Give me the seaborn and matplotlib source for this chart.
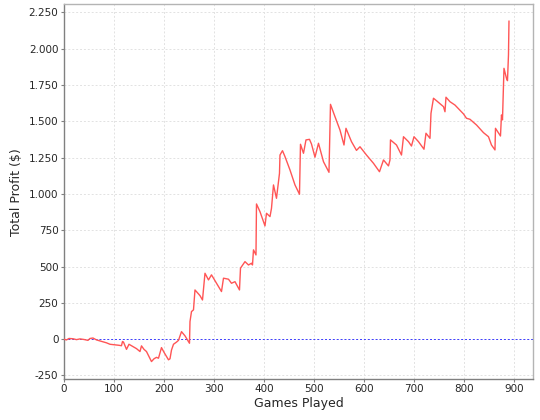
import numpy as np
import pandas as pd
import matplotlib
matplotlib.use("Agg")
import matplotlib.pyplot as plt
import seaborn as sns
from matplotlib.ticker import FuncFormatter, MultipleLocator

# turning points of the cumulative profit curve
games = [0, 5, 10, 18, 25, 32, 40, 48, 52, 58, 65, 75, 85, 92, 100, 110, 115, 117,
         119, 125, 130, 135, 145, 152, 155, 160, 165, 175, 180, 185, 189, 195, 200,
         209, 212, 215, 219, 225, 229, 235, 242, 249, 251, 252, 255, 259, 262, 272,
         277, 282, 289, 295, 305, 315, 319, 329, 335, 342, 351, 353, 362, 369, 375,
         377, 379, 384, 385, 392, 399, 402, 405, 412, 415, 419, 425, 431, 432, 437,
         442, 452, 462, 471, 473, 479, 484, 491, 495, 502, 509, 519, 530, 533, 542,
         552, 560, 564, 569, 575, 585, 592, 605, 619, 631, 639, 649, 652, 653, 665,
         675, 679, 689, 695, 700, 709, 720, 724, 732, 734, 739, 745, 759, 762, 764,
         772, 782, 799, 805, 812, 825, 839, 849, 855, 862, 863, 873, 875, 877, 880,
         885, 887, 889, 890]
profit = [0, -5, 5, 3, -3, 2, -2, -8, 5, 8, -5, -15, -25, -35, -38, -42, -45, -16,
          -20, -70, -35, -45, -65, -85, -46, -70, -85, -154, -135, -125, -131, -58, -90,
          -142, -135, -75, -35, -20, -8, 52, 23, -16, -28, 121, 190, 202, 339, 300,
          270, 454, 408, 443, 385, 328, 420, 413, 385, 396, 339, 489, 534, 511, 523,
          511, 615, 580, 931, 878, 809, 780, 867, 844, 901, 1062, 970, 1142, 1268, 1298,
          1257, 1165, 1062, 998, 1342, 1280, 1372, 1376, 1344, 1253, 1349, 1222, 1149, 1617, 1532,
          1440, 1337, 1452, 1410, 1360, 1300, 1325, 1268, 1211, 1153, 1234, 1193, 1234, 1372, 1337,
          1268, 1394, 1360, 1330, 1394, 1360, 1308, 1418, 1383, 1555, 1659, 1642, 1601, 1566, 1666,
          1635, 1612, 1551, 1521, 1514, 1475, 1422, 1394, 1337, 1303, 1452, 1399, 1544, 1510, 1865,
          1796, 1780, 1957, 2191]

df = pd.DataFrame({"Games Played": games, "Total Profit ($)": profit})

sns.set_style("white")
plt.rcParams['font.family'] = ['DejaVu Sans']

fig = plt.figure(figsize=(5.4, 4.2), dpi=100)
ax = fig.add_axes([0.1185, 0.098, 0.987 - 0.1185, 0.9895 - 0.098])

ax.grid(True, color='#e2e2e2', linestyle=(0, (2, 2)), linewidth=0.7)
ax.set_axisbelow(True)
ax.axhline(0, color='#3c3cff', linestyle=(0, (2, 2)), linewidth=0.7, zorder=2)

sns.lineplot(data=df, x="Games Played", y="Total Profit ($)", color='#ff5555',
             linewidth=1.0, ax=ax, zorder=3)

ax.set_xlim(0, 938)
ax.set_ylim(-273, 2305)
ax.xaxis.set_major_locator(MultipleLocator(100))
ax.yaxis.set_major_locator(MultipleLocator(250))
ax.yaxis.set_major_formatter(FuncFormatter(lambda v, p: f"{int(round(v)):,}".replace(',', '.')))

ax.tick_params(axis='both', labelsize=7.5, length=2, width=0.8, color='#808080',
               direction='out', pad=2, left=True, bottom=True)
ax.set_xlabel("Games Played", fontsize=9, labelpad=2)
ax.set_ylabel("Total Profit ($)", fontsize=9, labelpad=4)

for side in ['left', 'bottom']:
    ax.spines[side].set_color('#808080')
    ax.spines[side].set_linewidth(1.0)
for side in ['top', 'right']:
    ax.spines[side].set_color('#b4b4b4')
    ax.spines[side].set_linewidth(1.0)

fig.savefig("out.png", dpi=100)
